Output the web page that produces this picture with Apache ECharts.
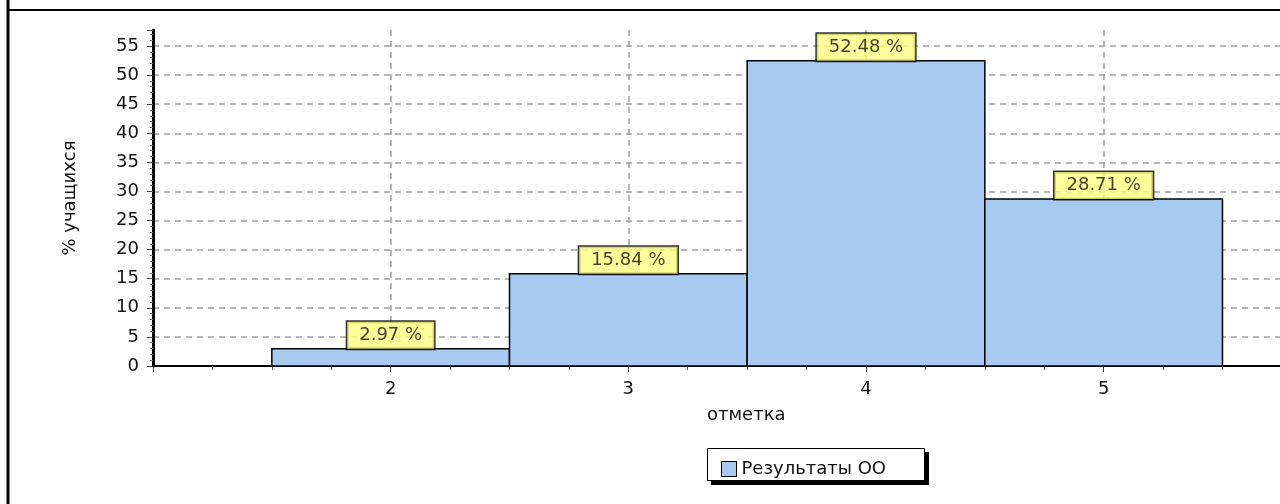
<!DOCTYPE html>
<html>
<head>
<meta charset="utf-8">
<script src="https://cdn.jsdelivr.net/npm/echarts@6/dist/echarts.min.js"></script>
<style>
html,body{margin:0;padding:0;background:#fff;}
#chart{width:1280px;height:504px;}
</style>
</head>
<body>
<div id="chart"></div>
<script>
const grades = [2, 3, 4, 5];
const percents = [2.97, 15.84, 52.48, 28.71];
const seriesName = 'Результаты ОО';
const xTitle = 'отметка';
const yTitle = '% учащихся';

const FONT = 'DejaVu Sans';
const barData = grades.map((g, i) => [g, percents[i]]);

const chart = echarts.init(document.getElementById('chart'));
chart.setOption({
  animation: false,
  backgroundColor: '#fff',
  grid: { left: 153, right: 0, top: 30, bottom: 138, containLabel: false },
  xAxis: {
    type: 'value', min: 1, max: 5.742, interval: 1,
    axisLine: { show: true, lineStyle: { color: '#000', width: 2 } },
    axisTick: { show: true, length: 6, lineStyle: { color: '#444', width: 1 } },
    minorTick: { show: true, splitNumber: 4, length: 4, lineStyle: { color: '#666' } },
    axisLabel: { showMinLabel: false, showMaxLabel: false, margin: 14, fontFamily: FONT, fontSize: 18, color: '#111' },
    splitLine: { show: true, showMinLine: false, showMaxLine: false, lineStyle: { color: '#a0a0a0', width: 1.5, type: [6, 5] } }
  },
  yAxis: {
    type: 'value', min: 0, max: 57.75, interval: 5,
    name: yTitle, nameLocation: 'middle', nameGap: 74, nameRotate: 90,
    nameTextStyle: { fontFamily: FONT, fontSize: 18, color: '#111' },
    axisLine: { show: true, lineStyle: { color: '#000', width: 3 } },
    axisTick: { show: true, length: 6, lineStyle: { color: '#444', width: 1 } },
    minorTick: { show: true, splitNumber: 5, length: 3, lineStyle: { color: '#666' } },
    axisLabel: { showMaxLabel: false, margin: 14, fontFamily: FONT, fontSize: 18, color: '#111' },
    splitLine: { show: true, showMinLine: false, showMaxLine: false, lineStyle: { color: '#a0a0a0', width: 1.5, type: [6, 5] } }
  },
  legend: {
    data: [seriesName],
    left: 716, top: 455,
    itemWidth: 15, itemHeight: 15,
    icon: 'rect',
    textStyle: { fontFamily: FONT, fontSize: 18, color: '#111' },
    itemStyle: { borderColor: '#000', borderWidth: 1 },
    selectedMode: false,
    z: 10
  },
  graphic: [
    { type: 'text', left: 707, top: 406, style: { text: xTitle, font: '18px "DejaVu Sans"', fill: '#111' } },
    { type: 'rect', shape: { x: 711, y: 452, width: 218, height: 33 }, style: { fill: '#000' }, z: 1 },
    { type: 'rect', shape: { x: 707.5, y: 448.5, width: 217, height: 32 }, style: { fill: '#fff', stroke: '#000', lineWidth: 1 }, z: 2 },
    { type: 'line', shape: { x1: 8, y1: 0, x2: 8, y2: 504 }, style: { stroke: '#000', lineWidth: 3 } },
    { type: 'line', shape: { x1: 8, y1: 10, x2: 1280, y2: 10 }, style: { stroke: '#000', lineWidth: 2 } }
  ],
  series: [
    {
      name: seriesName,
      type: 'custom',
      itemStyle: { color: '#a6caf0' },
      encode: { x: 0, y: 1 },
      data: barData,
      renderItem: function (params, api) {
        const x = api.value(0), y = api.value(1);
        const p1 = api.coord([x - 0.5, y]);
        const p2 = api.coord([x + 0.5, 0]);
        return {
          type: 'rect',
          shape: { x: p1[0], y: p1[1], width: p2[0] - p1[0], height: p2[1] - p1[1] },
          style: { fill: '#a6caf0', stroke: '#000', lineWidth: 1.5 }
        };
      },
      z: 3
    },
    {
      name: 'labels',
      type: 'scatter',
      data: barData,
      symbolSize: 0,
      silent: true,
      label: {
        show: true, position: 'top', distance: 0,
        formatter: p => p.value[1].toFixed(2) + ' %',
        fontFamily: FONT, fontSize: 18, color: '#111', lineHeight: 19,
        backgroundColor: '#ffff80', borderColor: '#000', borderWidth: 1.5,
        padding: [4, 12, 4, 12]
      },
      z: 5
    }
  ]
});
</script>
</body>
</html>
